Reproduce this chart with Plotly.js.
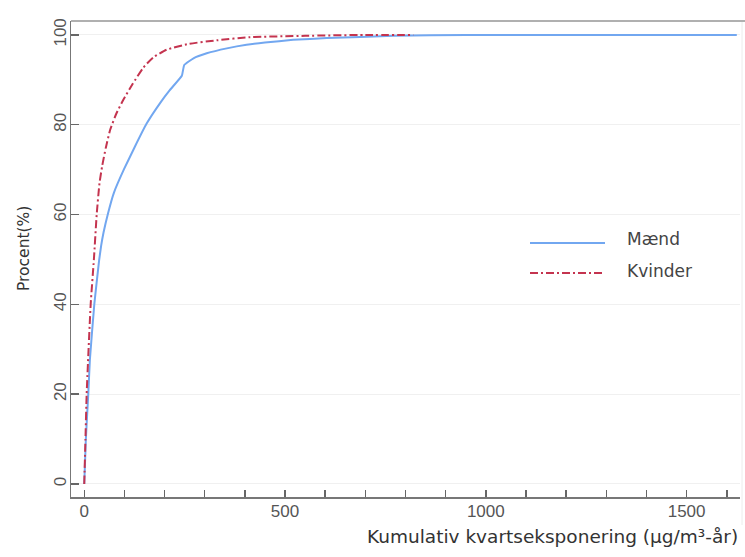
<!DOCTYPE html>
<html>
<head>
<meta charset="utf-8">
<script src="https://cdn.plot.ly/plotly-3.0.1.min.js"></script>
<style>html,body{margin:0;padding:0;background:#fff;}#chart{width:745px;height:557px;}</style>
</head>
<body>
<div id="chart"></div>
<script>
// Series names
const seriesNames = ["Mænd", "Kvinder"];
// Mænd (men): cumulative exposure (µg/m³-år) vs cumulative percent
const maendX = [0, 4, 10, 14, 25, 37, 42, 48, 59, 74, 99, 126, 155, 191, 213, 243, 249, 272, 305, 355, 404, 450, 520, 604, 770, 950, 1625];
const maendY = [0, 10, 20, 27.6, 40, 49.8, 53, 56, 60.2, 64.9, 70.1, 75.1, 80.2, 85.1, 87.7, 90.9, 93.3, 94.8, 95.9, 97.0, 97.8, 98.3, 98.9, 99.3, 99.8, 100, 100];
// Kvinder (women)
const kvinderX = [0, 3, 6, 16, 24, 31, 38, 45, 54, 65, 80, 97, 120, 147, 172, 205, 260, 330, 413, 550, 700, 820];
const kvinderY = [0, 10, 20, 40, 50, 60, 67, 71, 75, 79, 82.5, 85.5, 89, 92.7, 95, 96.7, 98.0, 98.8, 99.5, 99.8, 100, 100];
// Axis tick values
const xTickVals = [0, 500, 1000, 1500];
const yTickVals = [0, 20, 40, 60, 80, 100];
const xTitle = "Kumulativ kvartseksponering (µg/m³-år)";
const yTitle = "Procent(%)";

const blue = "#72a7f0";
const red = "#c4344f";

// plot area pixel geometry helpers
const L = 71, R = 740, T = 21, B = 497;
const px = v => (v - L) / (R - L);
const py = v => (B - v) / (B - T);

const traces = [
  {x: maendX, y: maendY, name: seriesNames[0], type: "scatter", mode: "lines",
   line: {color: blue, width: 2, shape: "spline", smoothing: 0.35}, showlegend: false},
  {x: kvinderX, y: kvinderY, name: seriesNames[1], type: "scatter", mode: "lines",
   line: {color: red, width: 2, dash: "8px,3px,2px,3px", shape: "spline", smoothing: 0.5}, showlegend: false}
];

const font = "DejaVu Sans, Verdana, sans-serif";

const layout = {
  width: 745, height: 557,
  margin: {l: L, r: 745 - R, t: T, b: 557 - B},
  paper_bgcolor: "#fff", plot_bgcolor: "#fff",
  showlegend: false,
  xaxis: {
    range: [-33, 1633], tickvals: xTickVals, ticks: "inside", ticklen: 7, tickwidth: 1.5,
    tickcolor: "#666", showline: true, linecolor: "#777", linewidth: 1.5,
    showgrid: false, zeroline: false,
    minor: {dtick: 100, tick0: 0, ticks: "inside", ticklen: 7, tickwidth: 1.5, tickcolor: "#666", showgrid: false},
    tickfont: {family: "Liberation Sans, Arial, sans-serif", size: 17, color: "#555"},
    ticklabelstandoff: -2
  },
  yaxis: {
    range: [-2.9, 103.1], tickvals: yTickVals, ticks: "inside", ticklen: 8, tickwidth: 1.5,
    tickcolor: "#666", showline: true, linecolor: "#777", linewidth: 1.5,
    showgrid: true, gridcolor: "#f0f0f0", gridwidth: 1, zeroline: false,
    tickangle: -90,
    tickfont: {family: "Liberation Sans, Arial, sans-serif", size: 17, color: "#555"},
    ticklabelstandoff: -3
  },
  shapes: [
    {type: "line", xref: "paper", yref: "paper", x0: 0, x1: px(745), y0: 1, y1: 1,
     line: {color: "#b0b0b0", width: 2}},
    {type: "line", xref: "paper", yref: "paper", x0: px(742), x1: px(742), y0: py(22), y1: py(525),
     line: {color: "#ececec", width: 1}},
    {type: "line", xref: "paper", yref: "paper", x0: px(530), x1: px(605), y0: py(243), y1: py(243),
     line: {color: blue, width: 2}},
    {type: "line", xref: "paper", yref: "paper", x0: px(530), x1: px(605), y0: py(273), y1: py(273),
     line: {color: red, width: 2, dash: "8px,3px,2px,3px"}}
  ],
  annotations: [
    {text: seriesNames[0], xref: "paper", yref: "paper", x: px(625), y: py(239), xanchor: "left", yanchor: "middle",
     showarrow: false, font: {family: font, size: 17, color: "#444"}},
    {text: seriesNames[1], xref: "paper", yref: "paper", x: px(625), y: py(271), xanchor: "left", yanchor: "middle",
     showarrow: false, font: {family: font, size: 17, color: "#444"}},
    {text: xTitle, xref: "paper", yref: "paper", x: px(740), y: py(536), xanchor: "right", yanchor: "middle",
     showarrow: false, font: {family: font, size: 18.5, color: "#333"}},
    {text: yTitle, xref: "paper", yref: "paper", x: px(24), y: py(249), xanchor: "center", yanchor: "middle",
     textangle: -90, showarrow: false, font: {family: font, size: 15.5, color: "#333"}}
  ]
};

Plotly.newPlot("chart", traces, layout, {staticPlot: true, displayModeBar: false});
</script>
</body>
</html>
